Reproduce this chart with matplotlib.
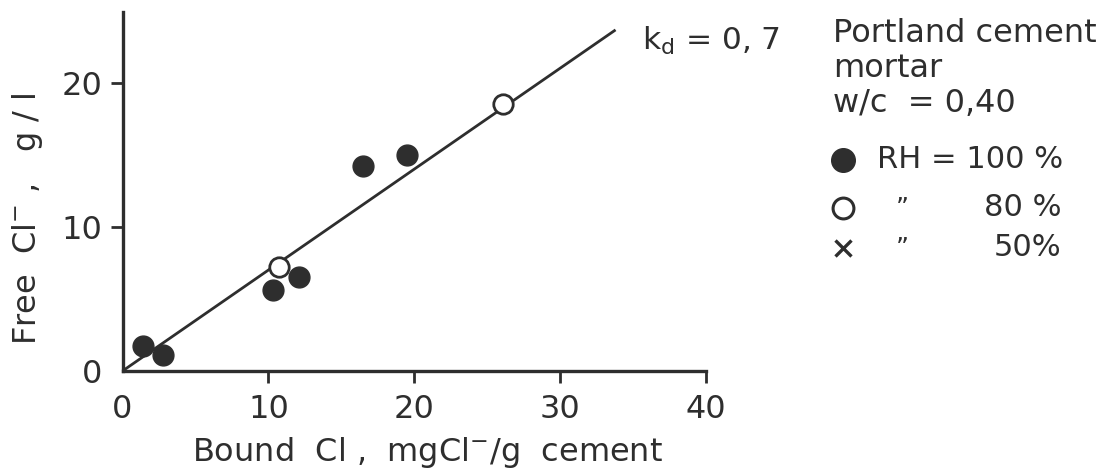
import matplotlib
matplotlib.use("Agg")
import matplotlib.pyplot as plt
from matplotlib.lines import Line2D
import numpy as np

# Bound vs free chloride, Portland cement mortar, w/c = 0.40
bound_100 = [1.4, 2.8, 10.3, 12.1, 16.5, 19.5]
free_100 = [1.7, 1.1, 5.6, 6.5, 14.2, 15.0]
bound_80 = [10.7, 26.1]
free_80 = [7.2, 18.5]

kd = 0.7
fit_x = [0.0, 33.8]

x_ticks = [0, 10, 20, 30, 40]
y_ticks = [0, 10, 20]

ink = "#2e2e2e"
plt.rcParams["font.family"] = ["DejaVu Sans"]

W, H = 1112, 472
fig = plt.figure(figsize=(W / 100, H / 100), dpi=100)
ax = fig.add_axes([122.5 / W, 1 - 371 / H, (706 - 122.5) / W, (371 - 12) / H])
ax.set_xlim(0, 40)
ax.set_ylim(0, 24.9)

for s in ["top", "right"]:
    ax.spines[s].set_visible(False)
for s in ["left", "bottom"]:
    ax.spines[s].set_color(ink)
    ax.spines[s].set_linewidth(2.4)

ax.set_xticks(x_ticks)
ax.set_yticks(y_ticks)
ax.tick_params(axis="both", direction="out", length=8.6, width=2.0, color=ink,
               labelcolor=ink, labelsize=23)
ax.tick_params(axis="x", pad=8)
ax.tick_params(axis="y", pad=6)
ax.xaxis.get_major_ticks()[0].tick1line.set_visible(False)
ax.yaxis.get_major_ticks()[0].tick1line.set_visible(False)

# kd regression line through the origin
fx = np.array(fit_x)
ax.plot(fx, kd * fx, color=ink, lw=2.0, solid_capstyle="butt", clip_on=False, zorder=2)

ax.plot(bound_100, free_100, "o", ms=15, color=ink, mec=ink, clip_on=False, zorder=3)
ax.plot(bound_80, free_80, "o", ms=14, mfc="white", mec=ink, mew=2.0, clip_on=False, zorder=4)

fig.text(28 / W, 1 - 219 / H, "Free  Cl$^{-}$ ,   g / l", fontsize=23, color=ink,
         rotation=90, ha="center", va="center")
fig.text(427 / W, 1 - 452 / H, "Bound  Cl ,  mgCl$^{-}$/g  cement", fontsize=23, color=ink,
         ha="center", va="center")

ax.text(35.6, 22.3, "k$_{\\mathrm{d}}$ = 0, 7", fontsize=22.5, color=ink,
        va="baseline", ha="left")

# key panel
fs = 23
x0 = 833 / W
fig.text(x0, 1 - 42 / H, "Portland cement", fontsize=fs, color=ink, va="baseline")
fig.text(x0, 1 - 77 / H, "mortar", fontsize=fs, color=ink, va="baseline")
fig.text(x0, 1 - 112 / H, "w/c  = 0,40", fontsize=fs, color=ink, va="baseline")

rows_y = [1 - 160 / H, 1 - 208 / H, 1 - 248 / H]
mx = 843 / W
fig.add_artist(Line2D([mx], [rows_y[0]], marker="o", ms=17, color=ink, ls="none",
                      transform=fig.transFigure))
fig.add_artist(Line2D([mx], [rows_y[1]], marker="o", ms=15, mfc="white", mec=ink, mew=2.2,
                      ls="none", transform=fig.transFigure))
fig.add_artist(Line2D([mx], [rows_y[2]], marker="x", ms=11, mec=ink, mew=2.4,
                      ls="none", transform=fig.transFigure))
fig.text(877 / W, rows_y[0], "RH = 100 %", fontsize=22, color=ink, va="center")
fig.text(902 / W, rows_y[1], "\u201d", fontsize=18, color=ink, va="center", ha="center")
fig.text(902 / W, rows_y[2], "\u201d", fontsize=18, color=ink, va="center", ha="center")
fig.text(1061 / W, rows_y[1], "80 %", fontsize=22, color=ink, va="center", ha="right")
fig.text(1061 / W, rows_y[2], "50%", fontsize=22, color=ink, va="center", ha="right")

fig.savefig("out.png", dpi=100)
